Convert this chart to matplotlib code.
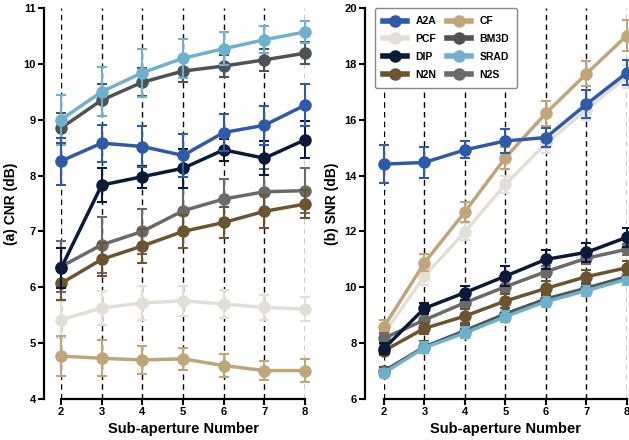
import matplotlib
matplotlib.use("Agg")
from matplotlib import pyplot as plt
from matplotlib.lines import Line2D

plt.rcParams['font.family'] = ['Liberation Sans', 'DejaVu Sans']
plt.rcParams['font.weight'] = 'bold'

x = [2, 3, 4, 5, 6, 7, 8]
methods = ['A2A', 'PCF', 'DIP', 'N2N', 'CF', 'BM3D', 'SRAD', 'N2S']
colors = {'A2A': '#2f5aa8', 'PCF': '#e3dfd6', 'DIP': '#0b1a38', 'N2N': '#6b5530',
          'CF': '#bfa57a', 'BM3D': '#4f5356', 'SRAD': '#6fb0cc', 'N2S': '#6a6a68'}

# CNR (dB)
cnr = {
    'A2A':  [8.26, 8.58, 8.52, 8.36, 8.77, 8.90, 9.26],
    'PCF':  [5.42, 5.63, 5.72, 5.76, 5.70, 5.64, 5.61],
    'DIP':  [6.34, 7.83, 7.98, 8.13, 8.46, 8.31, 8.64],
    'N2N':  [6.07, 6.50, 6.74, 7.00, 7.16, 7.36, 7.49],
    'CF':   [4.77, 4.73, 4.70, 4.72, 4.60, 4.51, 4.51],
    'BM3D': [8.85, 9.35, 9.67, 9.87, 9.96, 10.07, 10.19],
    'SRAD': [9.00, 9.50, 9.84, 10.10, 10.27, 10.43, 10.57],
    'N2S':  [6.37, 6.76, 7.00, 7.37, 7.58, 7.71, 7.73],
}
cnr_err = {
    'A2A':  [0.42, 0.33, 0.36, 0.38, 0.33, 0.35, 0.37],
    'PCF':  [0.33, 0.30, 0.30, 0.27, 0.25, 0.22, 0.22],
    'DIP':  [0.36, 0.30, 0.20, 0.35, 0.20, 0.30, 0.33],
    'N2N':  [0.30, 0.30, 0.30, 0.30, 0.28, 0.30, 0.25],
    'CF':   [0.35, 0.32, 0.25, 0.20, 0.20, 0.17, 0.20],
    'BM3D': [0.27, 0.28, 0.25, 0.20, 0.20, 0.20, 0.20],
    'SRAD': [0.45, 0.44, 0.43, 0.35, 0.30, 0.24, 0.20],
    'N2S':  [0.45, 0.50, 0.40, 0.40, 0.35, 0.40, 0.40],
}

# SNR (dB)
snr = {
    'A2A':  [14.41, 14.47, 14.92, 15.24, 15.36, 16.55, 17.68],
    'PCF':  [8.35, 10.40, 11.99, 13.69, 15.15, 16.35, 17.55],
    'DIP':  [7.81, 9.25, 9.81, 10.40, 11.00, 11.25, 11.79],
    'N2N':  [7.73, 8.53, 8.97, 9.51, 9.96, 10.38, 10.70],
    'CF':   [8.59, 10.88, 12.70, 14.64, 16.23, 17.64, 19.01],
    'BM3D': [7.00, 7.87, 8.45, 9.05, 9.58, 9.97, 10.38],
    'SRAD': [6.94, 7.84, 8.37, 8.95, 9.49, 9.88, 10.29],
    'N2S':  [8.18, 8.83, 9.45, 10.02, 10.56, 11.04, 11.36],
}
snr_err = {
    'A2A':  [0.67, 0.55, 0.30, 0.43, 0.35, 0.50, 0.45],
    'PCF':  [0.20, 0.30, 0.30, 0.30, 0.35, 0.35, 0.40],
    'DIP':  [0.20, 0.20, 0.25, 0.35, 0.35, 0.35, 0.35],
    'N2N':  [0.15, 0.20, 0.25, 0.25, 0.25, 0.25, 0.25],
    'CF':   [0.25, 0.30, 0.35, 0.40, 0.45, 0.45, 0.55],
    'BM3D': [0.15, 0.20, 0.20, 0.20, 0.20, 0.20, 0.20],
    'SRAD': [0.15, 0.20, 0.20, 0.20, 0.20, 0.20, 0.20],
    'N2S':  [0.20, 0.20, 0.20, 0.20, 0.20, 0.20, 0.20],
}

draw_order = ['PCF', 'CF', 'BM3D', 'SRAD', 'N2S', 'N2N', 'DIP', 'A2A']

fig = plt.figure(figsize=(6.29, 4.40), dpi=100)
ax1 = fig.add_axes([0.097, 0.093, 0.388, 0.889])
ax2 = fig.add_axes([0.6105, 0.093, 0.386, 0.889])


def panel(ax, data, err, ylim, yticks, ylabel, offset):
    for xv in x:
        ax.axvline(xv, color='black', ls=(0, (4, 3)), lw=1.0, zorder=0)
    for i, m in enumerate(draw_order):
        ax.errorbar(x, data[m], yerr=err[m], color=colors[m], lw=2.5,
                    marker='o', markersize=8, capsize=3.5, capthick=1.5,
                    elinewidth=1.5, zorder=2 + i, clip_on=False)
    ax.set_xlim(2, 8)
    ax.set_ylim(*ylim)
    ax.set_yticks(yticks)
    ax.set_xticks(x)
    ax.spines['top'].set_visible(False)
    ax.spines['right'].set_visible(False)
    ax.spines['left'].set_position(('outward', offset))
    for s in ['left', 'bottom']:
        ax.spines[s].set_linewidth(1.6)
    ax.tick_params(width=1.5, length=4, labelsize=8, pad=2)
    for lab in ax.get_xticklabels() + ax.get_yticklabels():
        lab.set_fontweight('bold')
    ax.set_ylabel(ylabel, fontsize=10, fontweight='bold', labelpad=4)
    ax.set_xlabel('Sub-aperture Number', fontsize=10.5, fontweight='bold', labelpad=3)


panel(ax1, cnr, cnr_err, (4, 11), range(4, 12), '(a) CNR (dB)', 12)
panel(ax2, snr, snr_err, (6, 20), range(6, 21, 2), '(b) SNR (dB)', 13.5)

handles = [Line2D([], [], color=colors[m], lw=4, marker='o', markersize=8)
           for m in methods]
leg = ax2.legend(handles, methods, ncol=2, loc='upper left',
                 bbox_to_anchor=(-0.037, 1.0), borderaxespad=0, fontsize=7.5,
                 handlelength=2.3, labelspacing=0.75, columnspacing=1.0,
                 borderpad=0.8, frameon=True, fancybox=True, edgecolor='#888888',
                 framealpha=1)
leg.get_frame().set_linewidth(1.0)
leg.set_zorder(20)
for t in leg.get_texts():
    t.set_fontweight('bold')

plt.savefig('out.png', dpi=100)
